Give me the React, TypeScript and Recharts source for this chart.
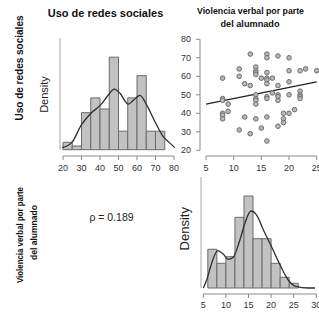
import {
  ComposedChart,
  Line,
  ReferenceArea,
  ReferenceLine,
  Scatter,
  ScatterChart,
  XAxis,
  YAxis,
} from "recharts";

// Uso de redes sociales: histogram (bins of 5) + density curve
const usoBinStarts = [20, 25, 30, 35, 40, 45, 50, 55, 60, 65, 70];
const usoCounts = [2, 1, 10, 14, 11, 25, 5, 14, 20, 5, 5];
const usoKdeX = [19.6, 24.7, 30.1, 35.1, 40.4, 44.5, 47.7, 50.8, 55.3, 58, 61.6, 65.2, 69.7, 74.2, 76.9, 80.5];
const usoKdeY = [0.001, 0.0034, 0.0122, 0.0176, 0.0216, 0.0264, 0.0292, 0.0272, 0.022, 0.0238, 0.0262, 0.0216, 0.0135, 0.0063, 0.0039, 0.001];
const usoTicks = [20, 30, 40, 50, 60, 70, 80];

// Violencia verbal: histogram (bins of 2) + density curve
const violBinStarts = [6, 8, 10, 12, 14, 16, 18, 20, 22, 24];
const violDensity = [0.0489, 0.0312, 0.0395, 0.0892, 0.1161, 0.0622, 0.0622, 0.0312, 0.0135, 0.0059];
const violKdeX = [5, 5.75, 6.85, 8.2, 9.4, 10.5, 11.6, 13.1, 14.2, 15.55, 16.8, 18.3, 20.1, 22, 23.8, 25.3, 28.2, 29.7];
const violKdeY = [0, 0.0101, 0.0312, 0.0471, 0.0429, 0.0362, 0.0388, 0.0606, 0.0817, 0.0972, 0.0921, 0.0732, 0.0521, 0.029, 0.0101, 0.0025, 0, 0];
const violTicks = [5, 10, 15, 20, 25, 30];

// scatter: violencia (x) vs uso (y)
const scatterX = [
  8, 8, 8, 8, 8, 8,
  9, 9,
  11, 11, 11,
  12, 12,
  13, 13, 13,
  14, 14, 14, 14, 14, 14, 14, 14, 14,
  15, 15,
  16, 16, 16, 16, 16, 16, 16, 16, 16, 16,
  17, 17,
  18, 18, 18, 18, 18, 18,
  19, 19, 19,
  20, 20, 20, 20, 20,
  21,
  22, 22, 22, 22, 22,
  23,
  25,
];
const scatterY = [
  59, 48, 47, 40, 39, 37,
  45, 41,
  64, 60, 31,
  56, 38,
  72, 55, 29,
  65, 63, 62, 61, 50, 48, 47, 45, 37,
  59, 32,
  72, 70, 62, 59, 58, 56, 49, 48, 38, 25,
  59, 51,
  71, 55, 50, 49, 47, 33,
  40, 37, 35,
  70, 63, 57, 50, 40,
  42,
  63, 52, 50, 49, 48,
  64,
  63,
];
const fitX = [5, 25];
const fitY = [45, 57];
const scatterXTicks = [5, 10, 15, 20, 25];
const scatterYTicks = [20, 30, 40, 50, 60, 70, 80];
const rhoText = "ρ = 0.189";

const FONT = "'Liberation Sans', Arial, sans-serif";
const BAR_FILL = "#c2c2c2";
const BAR_STROKE = "#6a6a6a";
const AXIS = "#8a8a8a";
const tickStyle = { fontSize: 9, fill: "#333", fontFamily: FONT };

type HistProps = {
  left: number;
  top: number;
  width: number;
  height: number;
  margin: { top: number; left: number; right: number };
  axisHeight: number;
  tickMargin: number;
  xDomain: [number, number];
  yDomain: [number, number];
  binStarts: number[];
  binWidth: number;
  heights: number[];
  kdeX: number[];
  kdeY: number[];
  ticks: number[];
};

function Histogram(p: HistProps) {
  const kde = p.kdeX.map((x, i) => ({ x, y: p.kdeY[i] }));
  const first = p.ticks[0];
  const last = p.ticks[p.ticks.length - 1];
  return (
    <div style={{ position: "absolute", left: p.left, top: p.top }}>
      <ComposedChart
        width={p.width}
        height={p.height}
        data={kde}
        margin={{ ...p.margin, bottom: 0 }}
      >
        <XAxis
          dataKey="x"
          type="number"
          domain={p.xDomain}
          allowDataOverflow
          ticks={p.ticks}
          interval={0}
          height={p.axisHeight}
          tickSize={4}
          tickMargin={p.tickMargin}
          axisLine={false}
          tickLine={{ stroke: AXIS }}
          tick={tickStyle}
        />
        <YAxis hide type="number" domain={p.yDomain} allowDataOverflow />
        {p.binStarts.map((b, i) => (
          <ReferenceArea
            key={b}
            x1={b}
            x2={b + p.binWidth}
            y1={0}
            y2={p.heights[i]}
            fill={BAR_FILL}
            fillOpacity={1}
            stroke={BAR_STROKE}
            strokeWidth={1}
            ifOverflow="visible"
          />
        ))}
        <Line
          dataKey="y"
          type="monotone"
          stroke="#2e2e2e"
          strokeWidth={1.3}
          dot={false}
          isAnimationActive={false}
        />
        <ReferenceLine
          segment={[{ x: first, y: p.yDomain[0] }, { x: last, y: p.yDomain[0] }]}
          stroke={AXIS}
          ifOverflow="visible"
        />
        <ReferenceLine
          segment={[{ x: p.xDomain[0], y: 0 }, { x: p.xDomain[0], y: p.yDomain[1] }]}
          stroke="#a8a8a8"
          ifOverflow="visible"
        />
      </ComposedChart>
    </div>
  );
}

function Dot(props: any) {
  const { cx, cy } = props;
  return <circle cx={cx} cy={cy} r={2.3} fill="#b8b8b8" stroke="#6e6e6e" strokeWidth={1} />;
}

function ScatterPanel() {
  const pts = scatterX.map((x, i) => ({ x, y: scatterY[i] }));
  const xDomain: [number, number] = [3.916, 25.416];
  const yDomain: [number, number] = [16.92, 81.78];
  return (
    <div style={{ position: "absolute", left: 160, top: 0 }}>
      <ScatterChart width={159} height={176} margin={{ top: 36, left: 0, right: 0, bottom: 0 }}>
        <XAxis
          dataKey="x"
          type="number"
          domain={xDomain}
          allowDataOverflow
          ticks={scatterXTicks}
          interval={0}
          height={20}
          tickSize={4}
          tickMargin={5}
          axisLine={false}
          tickLine={{ stroke: AXIS }}
          tick={tickStyle}
        />
        <YAxis
          dataKey="y"
          type="number"
          domain={yDomain}
          allowDataOverflow
          ticks={scatterYTicks}
          interval={0}
          width={40}
          tickSize={4}
          tickMargin={5}
          axisLine={false}
          tickLine={{ stroke: AXIS }}
          tick={tickStyle}
        />
        <Scatter data={pts} shape={<Dot />} isAnimationActive={false} />
        <ReferenceLine
          segment={[{ x: fitX[0], y: fitY[0] }, { x: fitX[1], y: fitY[1] }]}
          stroke="#222"
          strokeWidth={1.2}
          ifOverflow="visible"
        />
        <ReferenceLine
          segment={[{ x: scatterXTicks[0], y: yDomain[0] }, { x: scatterXTicks[scatterXTicks.length - 1], y: yDomain[0] }]}
          stroke={AXIS}
          ifOverflow="visible"
        />
        <ReferenceLine
          segment={[{ x: xDomain[0], y: scatterYTicks[0] }, { x: xDomain[0], y: scatterYTicks[scatterYTicks.length - 1] }]}
          stroke={AXIS}
          ifOverflow="visible"
        />
      </ScatterChart>
    </div>
  );
}

function Labels() {
  return (
    <svg
      width={319}
      height={313}
      style={{ position: "absolute", left: 0, top: 0, pointerEvents: "none" }}
      fontFamily={FONT}
    >
      <text x={105.5} y={16.7} fontSize={11} fontWeight="bold" textAnchor="middle" fill="#111">
        Uso de redes sociales
      </text>
      <text
        x={23}
        y={68}
        fontSize={10}
        fontWeight="bold"
        textAnchor="middle"
        fill="#111"
        transform="rotate(-90 23 68)"
      >
        Uso de redes sociales
      </text>
      <text x={48} y={94.5} fontSize={11} textAnchor="middle" fill="#222" transform="rotate(-90 48 94.5)">
        Density
      </text>
      <text
        x={250.5}
        y={14.3}
        fontSize={9.5}
        fontWeight="bold"
        textAnchor="middle"
        fill="#111"
        textLength={107}
        lengthAdjust="spacingAndGlyphs"
      >
        Violencia verbal por parte
      </text>
      <text
        x={250}
        y={27.2}
        fontSize={9.5}
        fontWeight="bold"
        textAnchor="middle"
        fill="#111"
        textLength={59}
        lengthAdjust="spacingAndGlyphs"
      >
        del alumnado
      </text>
      <text
        x={22.5}
        y={235}
        fontSize={8.5}
        fontWeight="bold"
        textAnchor="middle"
        fill="#111"
        textLength={96}
        lengthAdjust="spacingAndGlyphs"
        transform="rotate(-90 22.5 235)"
      >
        Violencia verbal por parte
      </text>
      <text
        x={36.5}
        y={232.5}
        fontSize={8.5}
        fontWeight="bold"
        textAnchor="middle"
        fill="#111"
        textLength={55}
        lengthAdjust="spacingAndGlyphs"
        transform="rotate(-90 36.5 232.5)"
      >
        del alumnado
      </text>
      <text x={111.5} y={220.5} fontSize={10.5} textAnchor="middle" fill="#222">
        {rhoText}
      </text>
      <text x={189.5} y={228.7} fontSize={13} textAnchor="middle" fill="#222" transform="rotate(-90 189.5 228.7)">
        Density
      </text>
    </svg>
  );
}

export default function App() {
  const usoN = usoCounts.reduce((a, b) => a + b, 0);
  const usoDensity = usoCounts.map((c) => c / (usoN * 5));
  return (
    <div style={{ position: "absolute", left: 0, top: 0, width: 319, height: 313, background: "#fff" }}>
      <Histogram
        left={0}
        top={0}
        width={200}
        height={176}
        margin={{ top: 38, left: 60, right: 24 }}
        axisHeight={20}
        tickMargin={5}
        xDomain={[18.378, 81.08]}
        yDomain={[-0.00304, 0.0539]}
        binStarts={usoBinStarts}
        binWidth={5}
        heights={usoDensity}
        kdeX={usoKdeX}
        kdeY={usoKdeY}
        ticks={usoTicks}
      />
      <ScatterPanel />
      <Histogram
        left={160}
        top={160}
        width={159}
        height={153}
        margin={{ top: 17, left: 41, right: 0 }}
        axisHeight={19}
        tickMargin={4}
        xDomain={[4.491, 30.597]}
        yDomain={[-0.00757, 0.1401]}
        binStarts={violBinStarts}
        binWidth={2}
        heights={violDensity}
        kdeX={violKdeX}
        kdeY={violKdeY}
        ticks={violTicks}
      />
      <Labels />
    </div>
  );
}
